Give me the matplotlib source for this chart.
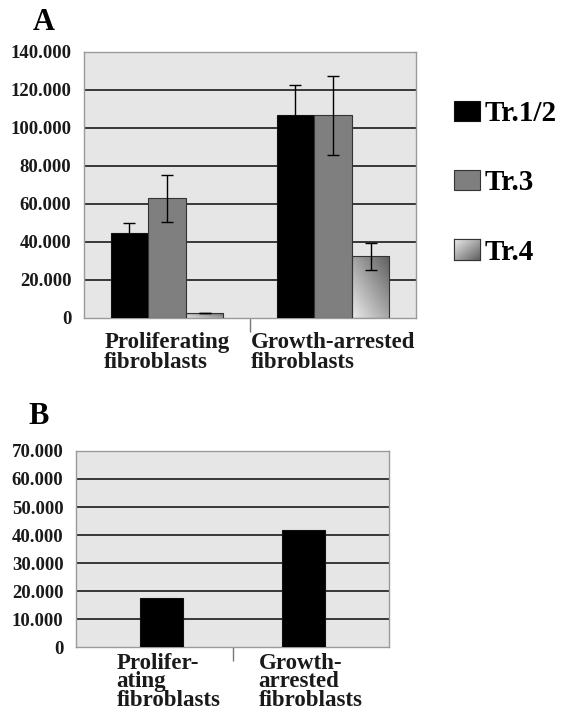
import numpy as np
import matplotlib
matplotlib.use('Agg')
import matplotlib.pyplot as plt
import matplotlib.transforms as mtransforms
from matplotlib.ticker import FuncFormatter

# panel A data
GROUPS_A = ["Proliferating\nfibroblasts", "Growth-arrested\nfibroblasts"]
SERIES = ["Tr.1/2", "Tr.3", "Tr.4"]
TR12 = [44600, 106800]
TR12_ERR = [5200, 16000]
TR3 = [63000, 106800]
TR3_ERR = [12300, 20800]
TR4 = [2800, 32500]
TR4_ERR = [0, 7100]

# panel B data
GROUPS_B = ["Prolifer-\nating\nfibroblasts", "Growth-\narrested\nfibroblasts"]
VALUES_B = [17400, 41800]

YTICKS_A = [0, 20000, 40000, 60000, 80000, 100000, 120000, 140000]
YTICKS_B = [0, 10000, 20000, 30000, 40000, 50000, 60000, 70000]

FONT = "Liberation Serif"
BG = "#e6e6e6"
FRAME = "#9a9a9a"
GRID = "#2a2a2a"


def dotted(v, pos):
    return "{:,}".format(int(v)).replace(",", ".")


def grad_array(n):
    xx, yy = np.meshgrid(np.linspace(0, 1, n), np.linspace(0, 1, n))
    return 0.92 - 0.55 * (0.5 * xx + 0.5 * yy)


def gradient(ax, bar):
    # light top-left to dark bottom-right, clipped to the bar
    x0, y0 = bar.get_x(), bar.get_y()
    w, h = bar.get_width(), bar.get_height()
    im = ax.imshow(grad_array(60), cmap="gray", vmin=0, vmax=1,
                   extent=(x0, x0 + w, y0 + h, y0),
                   aspect="auto", zorder=2, interpolation="bilinear")
    im.set_clip_path(bar)


def style_axes(ax, ticks, labels, xlim, top_grid, pad, lsp):
    ax.set_facecolor(BG)
    ax.set_xlim(*xlim)
    ax.set_ylim(ticks[0], ticks[-1])
    ax.set_yticks(ticks)
    ax.yaxis.set_major_formatter(FuncFormatter(dotted))
    ax.tick_params(axis="y", length=0, pad=9, labelsize=13.5, labelcolor="#1a1a1a")
    for t in ax.get_yticklabels():
        t.set_fontfamily(FONT)
        t.set_fontweight("bold")
    ax.yaxis.grid(True, color=GRID, lw=1.3)
    ax.set_axisbelow(True)
    grids = ax.get_ygridlines()
    grids[0].set_visible(False)
    if not top_grid:
        grids[-1].set_visible(False)
    for s in ax.spines.values():
        s.set_color(FRAME)
        s.set_linewidth(1.0)
    ax.set_xticks([0, 1])
    ax.set_xticklabels(labels, fontfamily=FONT, fontweight="bold", fontsize=16.5,
                       linespacing=lsp, ma="left", color="#1a1a1a")
    ax.tick_params(axis="x", which="major", length=0, pad=pad)
    ax.set_xticks([0.5], minor=True)
    ax.tick_params(axis="x", which="minor", length=10, color="#777777", width=1)


def main():
    fig = plt.figure(figsize=(5.7, 7.13), dpi=100)

    # ---- panel A
    axA = fig.add_axes([84 / 570, 1 - 318 / 713, 332 / 570, 266 / 713])
    x = np.arange(len(GROUPS_A))
    w = 0.226
    ekw = dict(ecolor="black", elinewidth=1.0, capsize=4.5, capthick=1.0)
    b1 = axA.bar(x - w, TR12, w, color="black", edgecolor="#111111", lw=0.8,
                 yerr=TR12_ERR, error_kw=ekw, zorder=3, label=SERIES[0])
    b2 = axA.bar(x, TR3, w, color="#7f7f7f", edgecolor="#333333", lw=0.8,
                 yerr=TR3_ERR, error_kw=ekw, zorder=3, label=SERIES[1])
    b3 = axA.bar(x + w, TR4, w, color="none", edgecolor="#333333", lw=0.8,
                 yerr=TR4_ERR, error_kw=ekw, zorder=3, label=SERIES[2])
    for bar in b3:
        gradient(axA, bar)
    style_axes(axA, YTICKS_A, GROUPS_A, (-0.5, 1.5), top_grid=False, pad=10, lsp=0.95)

    fig.text(33 / 570, 1 - 22 / 713, "A", fontfamily=FONT, fontweight="bold",
             fontsize=22, va="center", ha="left")

    leg = fig.legend(handles=[b1, b2, b3], labels=SERIES, loc="center left",
                     bbox_to_anchor=(454 / 570, 1 - 183 / 713), frameon=False,
                     prop={"family": FONT, "weight": "bold", "size": 21},
                     handlelength=0.9, handleheight=0.7, handletextpad=0.15,
                     labelspacing=1.45, borderpad=0, borderaxespad=0)
    leg.legend_handles[2].set_facecolor("none")

    # ---- panel B
    axB = fig.add_axes([76 / 570, 1 - 647 / 713, 313 / 570, 196 / 713])
    axB.bar(np.arange(len(GROUPS_B)), VALUES_B, 0.3, color="black",
            edgecolor="#111111", lw=0.8, zorder=3)
    style_axes(axB, YTICKS_B, GROUPS_B, (-0.6, 1.6), top_grid=True, pad=4, lsp=0.86)
    shift = mtransforms.ScaledTranslation(7 / 100, 0, fig.dpi_scale_trans)
    for t in axB.get_xticklabels():
        t.set_transform(t.get_transform() + shift)

    fig.text(28 / 570, 1 - 417 / 713, "B", fontfamily=FONT, fontweight="bold",
             fontsize=22, va="center", ha="left")

    # gradient on the Tr.4 legend patch
    fig.canvas.draw()
    patch = leg.legend_handles[2]
    bb = patch.get_window_extent().transformed(fig.transFigure.inverted())
    lax = fig.add_axes([bb.x0, bb.y0, bb.width, bb.height], zorder=10)
    lax.imshow(grad_array(30), cmap="gray", vmin=0, vmax=1,
               aspect="auto", interpolation="bilinear")
    lax.set_xticks([])
    lax.set_yticks([])
    for s in lax.spines.values():
        s.set_color("#333333")
        s.set_linewidth(0.8)

    fig.savefig("out.png", dpi=100)


if __name__ == "__main__":
    main()
